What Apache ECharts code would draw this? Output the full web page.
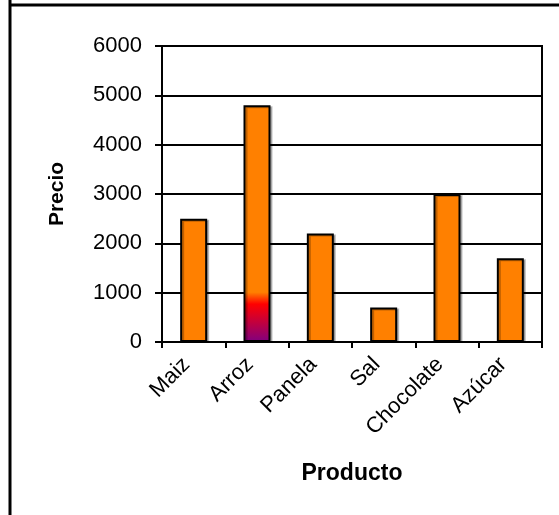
<!DOCTYPE html>
<html>
<head>
<meta charset="utf-8">
<script src="https://cdn.jsdelivr.net/npm/echarts@6/dist/echarts.min.js"></script>
<style>
  html, body { margin: 0; padding: 0; background: #fff; }
  #chart { width: 559px; height: 515px; }
</style>
</head>
<body>
<div id="chart"></div>
<script>
// Price per product
const productos = ['Maiz', 'Arroz', 'Panela', 'Sal', 'Chocolate', 'Azúcar'];
const precios = [2500, 4800, 2200, 700, 3000, 1700];
const yTicks = [0, 1000, 2000, 3000, 4000, 5000, 6000];

const ORANGE = '#FF8000';
const FONT = 'Liberation Sans, Arial, sans-serif';

// Arroz bar carries an orange -> red -> purple fade at its base
const arrozFill = new echarts.graphic.LinearGradient(0, 0, 0, 1, [
  { offset: 0, color: ORANGE },
  { offset: 0.79, color: ORANGE },
  { offset: 0.84, color: '#FF0000' },
  { offset: 1, color: '#800080' }
]);

const barData = precios.map((v, i) => (
  productos[i] === 'Arroz' ? { value: v, itemStyle: { color: arrozFill } } : v
));

const chart = echarts.init(document.getElementById('chart'), null, { renderer: 'canvas' });

chart.setOption({
  animation: false,
  backgroundColor: '#fff',
  graphic: [
    { type: 'line', shape: { x1: 10, y1: 0, x2: 10, y2: 515 }, style: { stroke: '#000', lineWidth: 3 } },
    { type: 'line', shape: { x1: 9, y1: 5, x2: 559, y2: 5 }, style: { stroke: '#000', lineWidth: 3 } }
  ],
  grid: {
    left: 162, right: 17, top: 46, bottom: 173,
    show: true, borderColor: '#000', borderWidth: 2, backgroundColor: 'transparent'
  },
  xAxis: {
    type: 'category',
    data: productos,
    name: 'Producto',
    nameLocation: 'middle',
    nameGap: 120,
    nameTextStyle: { fontFamily: FONT, fontSize: 23, fontWeight: 'bold', color: '#000' },
    axisLine: { show: true, lineStyle: { color: '#000', width: 2 } },
    axisTick: { show: true, length: 6, interval: 0, lineStyle: { color: '#000', width: 2 } },
    axisLabel: {
      rotate: 45, interval: 0, margin: 12, padding: [0, 10, 0, 0],
      fontFamily: FONT, fontSize: 22, color: '#000'
    }
  },
  yAxis: {
    type: 'value',
    min: 0, max: 6000, interval: 1000,
    name: 'Precio',
    nameLocation: 'middle',
    nameRotate: 90,
    nameGap: 94,
    nameTextStyle: { fontFamily: FONT, fontSize: 21, fontWeight: 'bold', color: '#000' },
    axisLine: { show: true, lineStyle: { color: '#000', width: 2 } },
    axisTick: { show: true, length: 7, lineStyle: { color: '#000', width: 2 } },
    axisLabel: {
      margin: 20, fontFamily: FONT, fontSize: 22, color: '#000',
      formatter: v => (yTicks.includes(v) ? String(v) : '')
    },
    splitLine: { show: true, lineStyle: { color: '#000', width: 2 } }
  },
  series: [{
    type: 'bar',
    data: barData,
    barWidth: 27,
    itemStyle: {
      color: ORANGE,
      borderColor: '#000',
      borderWidth: 2,
      shadowColor: 'rgba(0,0,0,0.25)',
      shadowOffsetX: 2,
      shadowOffsetY: 1,
      shadowBlur: 0
    }
  }]
});
</script>
</body>
</html>
